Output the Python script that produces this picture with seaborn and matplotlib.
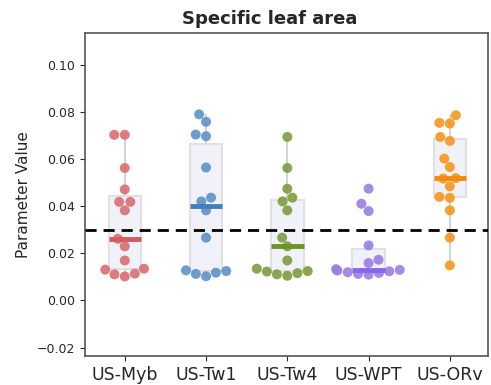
import matplotlib
matplotlib.use("Agg")
import matplotlib.pyplot as plt
import seaborn as sns
import pandas as pd

sites = ["US-Myb", "US-Tw1", "US-Tw4", "US-WPT", "US-ORv"]

myb = [0.0704, 0.0704, 0.0563, 0.0472, 0.0419, 0.0419, 0.0383, 0.0262,
       0.0230, 0.0170, 0.0131, 0.0111, 0.0102, 0.0114, 0.0135]
tw1 = [0.0791, 0.0759, 0.0705, 0.0698, 0.0565, 0.0437, 0.0421, 0.0383,
       0.0267, 0.0128, 0.0113, 0.0103, 0.0118, 0.0125]
tw4 = [0.0695, 0.0563, 0.0475, 0.0437, 0.0421, 0.0383, 0.0267, 0.0230,
       0.0170, 0.0135, 0.0125, 0.0111, 0.0105, 0.0116, 0.0123]
wpt = [0.0475, 0.0411, 0.0380, 0.0234, 0.0173, 0.0159, 0.0133, 0.0130,
       0.0127, 0.0124, 0.0120, 0.0117, 0.0113, 0.0110]
orv = [0.0787, 0.0755, 0.0752, 0.0695, 0.0678, 0.0603, 0.0567, 0.0520,
       0.0518, 0.0485, 0.0440, 0.0436, 0.0383, 0.0267, 0.0149]

threshold = 0.03

dot_colors = ["#d86f72", "#5f93c6", "#7d9d3f", "#9a7ee2", "#f7961f"]
median_colors = ["#d65a5e", "#3f7fbf", "#6e9324", "#8b66e6", "#f78a0c"]

values = {"US-Myb": myb, "US-Tw1": tw1, "US-Tw4": tw4, "US-WPT": wpt, "US-ORv": orv}
df = pd.DataFrame([(s, v) for s in sites for v in values[s]], columns=["site", "value"])

sns.set_style("ticks")
fig = plt.figure(figsize=(4.91, 3.85), dpi=100)
ax = fig.add_axes([0.173, 0.0753, 0.821, 0.838])

sns.boxplot(data=df, x="site", y="value", order=sites, color="#f0f1fa",
            width=0.4, showcaps=False, showfliers=False, whis=1.5,
            boxprops=dict(edgecolor="#e0e0e5", linewidth=1.5),
            whiskerprops=dict(color="#d4d4d8", linewidth=1.5),
            medianprops=dict(linewidth=3.5, zorder=5),
            ax=ax)
for line, c in zip(ax.containers[0].medians, median_colors):
    line.set_color(c)
    line.set_zorder(5)

sns.swarmplot(data=df, x="site", y="value", order=sites, hue="site",
              palette=dot_colors, size=7.2, alpha=0.9, linewidth=0,
              legend=False, ax=ax, zorder=4)

ax.axhline(threshold, color="black", linestyle=(0, (4, 2.5)), linewidth=2, zorder=6)

ax.set_ylim(-0.0236, 0.1135)
ax.set_xlim(-0.49, 4.47)
ax.set_yticks([-0.02, 0.0, 0.02, 0.04, 0.06, 0.08, 0.10])
ax.set_yticklabels(["\u22120.02", "0.00", "0.02", "0.04", "0.06", "0.08", "0.10"])
ax.tick_params(axis="y", labelsize=9)
ax.tick_params(axis="x", labelsize=12.5)
ax.set_xlabel("")
ax.set_ylabel("Parameter Value", fontsize=11)
ax.set_title("Specific leaf area", fontsize=13, fontweight="bold", x=0.459, pad=7)
for sp in ax.spines.values():
    sp.set_color("#555555")
    sp.set_linewidth(1.2)

fig.savefig("out.png", dpi=100)
